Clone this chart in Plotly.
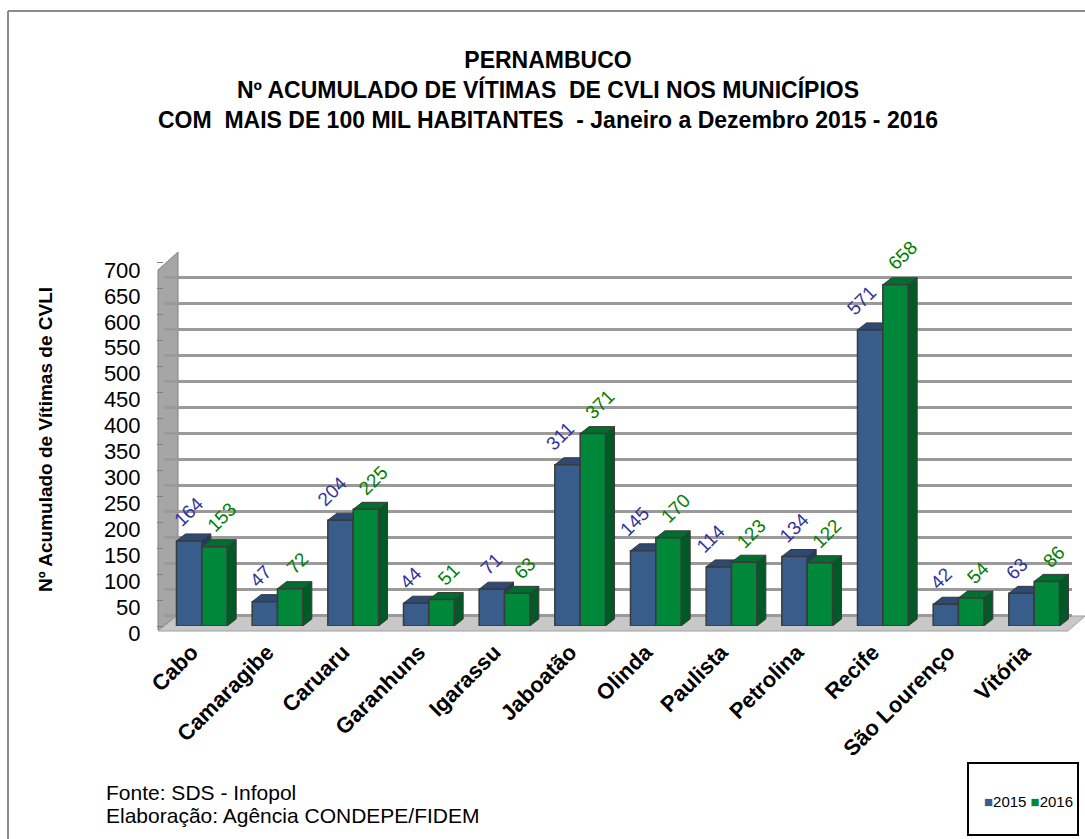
import plotly.graph_objects as go

municipios = ["Cabo", "Camaragibe", "Caruaru", "Garanhuns", "Igarassu", "Jaboatão",
              "Olinda", "Paulista", "Petrolina", "Recife", "São Lourenço", "Vitória"]
v2015 = [164, 47, 204, 44, 71, 311, 145, 114, 134, 571, 42, 63]
v2016 = [153, 72, 225, 51, 63, 371, 170, 123, 122, 658, 54, 86]
y_ticks = list(range(0, 701, 50))
series_names = ["2015", "2016"]
bar_colors = ["#385D8A", "#00883A"]
top_colors = ["#2C4A73", "#006E2E"]
side_colors = ["#223B5E", "#005A25"]
label_colors = ["#333399", "#008000"]

W, H = 1085, 839
L, R, T, B = 164, 13, 252, 213
PW = W - L - R
PH = H - T - B
Y0 = H - B  # pixel of value 0
YMAX = 721.2
BARGAP = 0.33


def px(x):
    return (x - L) / PW


def py(y):
    return (Y0 - y) / PH


FONT = "Liberation Sans, Arial, sans-serif"

fig = go.Figure()
for name, vals, col in zip(series_names, [v2015, v2016], bar_colors):
    fig.add_trace(go.Bar(
        name=name, x=municipios, y=vals,
        marker=dict(color=col, line=dict(color="#3A3A3A", width=1.5)),
    ))
# helper (invisible) trace for the back-wall gridlines axis
fig.add_trace(go.Scatter(x=municipios, y=[None] * len(municipios), yaxis="y2",
                         showlegend=False, hoverinfo="skip"))

scale = PH / YMAX            # px per data unit
shift = 11 / scale
cat_px = PW / len(municipios)  # px per category
dx = 9 / cat_px              # depth offset in category units
dy = 7 / scale               # depth offset in data units
bw = (1 - BARGAP) / 2        # single bar width in category units
lab_gap = 9 / scale

shapes = [
    # left wall
    dict(type="path", xref="paper", yref="paper",
         path=f"M {px(158)},{py(630)} L {px(158)},{py(270)} L {px(178)},{py(252)} L {px(178)},{py(615)} Z",
         fillcolor="#A6A6A6", line=dict(color="#808080", width=1), layer="between"),
    # floor
    dict(type="path", xref="paper", yref="paper",
         path=f"M {px(158)},{py(631)} L {px(1068)},{py(631)} L {px(1085)},{py(616)} L {px(178)},{py(615)} Z",
         fillcolor="#C8C8C8", line=dict(color="#A0A0A0", width=1), layer="below"),
]

annotations = []

# 3D faces of the bars (drawn beneath the bar fronts) and value labels
for s, vals in enumerate([v2015, v2016]):
    for i, v in enumerate(vals):
        xl = i - bw + s * bw
        xr = xl + bw
        xc = (xl + xr) / 2
        shapes.append(dict(
            type="path", xref="x", yref="y", layer="between",
            path=f"M {xr},0 L {xr},{v} L {xr + dx},{v + dy} L {xr + dx},{dy} Z",
            fillcolor=side_colors[s], line=dict(color="#3A3A3A", width=1)))
        shapes.append(dict(
            type="path", xref="x", yref="y", layer="between",
            path=f"M {xl},{v} L {xl + dx},{v + dy} L {xr + dx},{v + dy} L {xr},{v} Z",
            fillcolor=top_colors[s], line=dict(color="#3A3A3A", width=1)))
        if s == 0 and v2016[i] + dy > v + lab_gap:
            lx, anchor = xr - 1 / cat_px, "right"
        elif s == 0:
            lx, anchor = xc, "center"
        else:
            lx, anchor = xc + 7 / cat_px, "center"
        annotations.append(dict(
            text=str(v), xref="x", yref="y", x=lx, y=v + lab_gap,
            xanchor=anchor, yanchor="bottom", textangle=-45, showarrow=False,
            borderpad=0, font=dict(size=19, color=label_colors[s], family=FONT)))

shapes += [
    # outer border
    dict(type="line", xref="paper", yref="paper", x0=px(8), x1=px(8), y0=py(11), y1=py(839),
         line=dict(color="#8C8C8C", width=2)),
    dict(type="line", xref="paper", yref="paper", x0=px(8), x1=px(1085), y0=py(11), y1=py(11),
         line=dict(color="#8C8C8C", width=2)),
    # legend box
    dict(type="rect", xref="paper", yref="paper", x0=px(968), x1=px(1078), y0=py(763), y1=py(835),
         line=dict(color="#000000", width=2), fillcolor="rgba(0,0,0,0)"),
]

legend_text = "".join(
    f"<span style='color:{c}'>■</span>{n} " for n, c in zip(series_names, bar_colors)
).strip()

annotations += [
    dict(text="<b>Nº Acumulado de Vítimas de CVLI</b>", textangle=-90, xref="paper", yref="paper",
         x=px(45), y=py(440), xanchor="center", yanchor="middle", showarrow=False,
         font=dict(size=19, color="#000000", family=FONT)),
    dict(text="Fonte: SDS - Infopol", xref="paper", yref="paper", x=px(104), y=py(792),
         xanchor="left", yanchor="middle", showarrow=False,
         font=dict(size=21, color="#000000", family=FONT)),
    dict(text="Elaboração: Agência CONDEPE/FIDEM", xref="paper", yref="paper", x=px(104), y=py(815),
         xanchor="left", yanchor="middle", showarrow=False,
         font=dict(size=21, color="#000000", family=FONT)),
    dict(text=legend_text, xref="paper", yref="paper", x=px(1028), y=py(801),
         xanchor="center", yanchor="middle", showarrow=False,
         font=dict(size=15, color="#000000", family=FONT)),
]

fig.update_layout(
    width=W, height=H,
    margin=dict(l=L, r=R, t=T, b=B, autoexpand=False),
    paper_bgcolor="white", plot_bgcolor="white",
    barmode="group", bargap=BARGAP, bargroupgap=0,
    title=dict(
        text="<b>PERNAMBUCO<br>Nº ACUMULADO DE VÍTIMAS  DE CVLI NOS MUNICÍPIOS<br>"
             "COM  MAIS DE 100 MIL HABITANTES  - Janeiro a Dezembro 2015 - 2016</b>",
        x=548 / W, xanchor="center", y=1 - 68 / H, yanchor="top",
        font=dict(size=23, color="#000000", family=FONT)),
    xaxis=dict(type="category", showgrid=False, showline=False, ticks="",
               tickangle=-45, tickfont=dict(size=22, color="#000000", family=FONT, weight="bold"),
               ticklabelshift=-10, ticklabelstandoff=8,
               range=[-0.5, 11.5]),
    yaxis=dict(range=[0, YMAX], tickvals=y_ticks, showgrid=False, zeroline=False,
               ticks="outside", ticklen=6, tickcolor="#808080", ticklabelstandoff=12,
               ticklabelshift=7,
               tickfont=dict(size=22, color="#000000", family=FONT)),
    yaxis2=dict(overlaying="y", range=[-shift, YMAX - shift], tickvals=y_ticks,
                showgrid=True, gridcolor="#9A9A9A", gridwidth=3, showticklabels=False,
                zeroline=False, ticks=""),
    shapes=shapes, annotations=annotations,
    showlegend=False,
)

fig.write_html("out.html", config={"displayModeBar": False},
               post_script="document.body.style.margin='0';document.body.style.overflow='hidden';")
